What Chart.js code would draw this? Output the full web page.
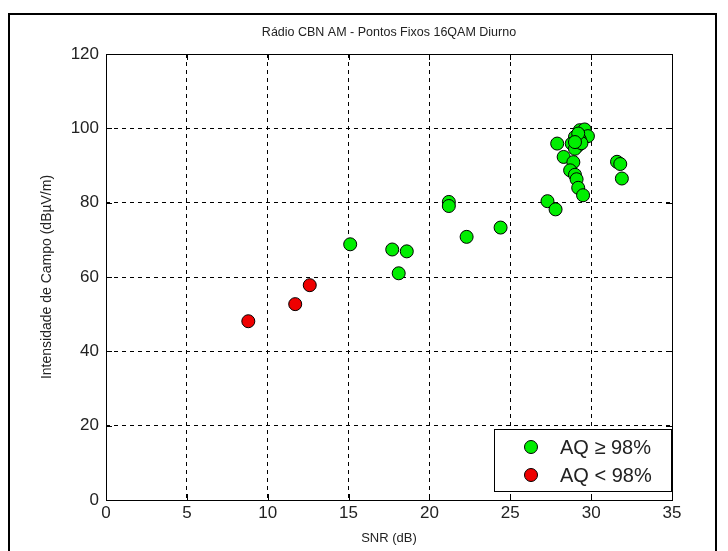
<!DOCTYPE html>
<html>
<head>
<meta charset="utf-8">
<title>Rádio CBN AM - Pontos Fixos 16QAM Diurno</title>
<script src="https://cdn.jsdelivr.net/npm/chart.js@4.4.0/dist/chart.umd.min.js"></script>
<style>
  html, body { margin: 0; padding: 0; background: #fff; }
  #wrap { width: 728px; height: 551px; }
</style>
</head>
<body>
<div id="wrap"><canvas id="chart" width="728" height="551"></canvas></div>
<script>
// Pontos fixos: SNR (dB) x intensidade de campo (dBµV/m)
const snrOk = [15.1, 17.7, 18.6, 18.1, 21.2, 21.2, 22.3, 24.4, 27.3, 27.8,
               27.9, 28.3, 28.9, 28.7, 29.0, 29.1, 29.2, 29.5, 29.3, 29.6,
               29.8, 29.0, 28.8, 29.2, 29.0, 29.1, 29.3, 29.4, 29.2, 29.0,
               31.6, 31.8, 31.9];
const campoOk = [68.8, 67.4, 66.9, 61.0, 80.2, 79.1, 70.8, 73.3, 80.4, 78.2,
                 95.9, 92.3, 90.9, 88.7, 87.5, 86.3, 84.0, 82.0, 99.5, 99.7,
                 97.9, 97.7, 95.9, 95.4, 94.5, 96.5, 97.0, 96.0, 98.6, 96.3,
                 91.0, 90.4, 86.5];
const snrBad = [8.8, 11.7, 12.6];
const campoBad = [48.1, 52.7, 57.8];

const seriesLabels = ["AQ \u2265 98%", "AQ < 98%"];
const xTicks = [0, 5, 10, 15, 20, 25, 30, 35];
const yTicks = [0, 20, 40, 60, 80, 100, 120];
const chartTitle = "Rádio CBN AM - Pontos Fixos 16QAM Diurno";

const FONT = "'Liberation Sans', Arial, Helvetica, sans-serif";
const GREEN = "#00ee00";
const RED = "#ee0000";

const toPoints = (xs, ys) => xs.map((x, i) => ({ x, y: ys[i] }));

// moldura externa, título, caixa dos eixos com ticks internos e legenda
const matlabLook = {
  id: "matlabLook",
  beforeDraw(chart) {
    const c = chart.ctx;
    c.save();
    c.fillStyle = "#fff";
    c.fillRect(0, 0, chart.width, chart.height);
    c.restore();
  },
  afterDatasetsDraw(chart) {
    const c = chart.ctx;
    const a = chart.chartArea;
    const xs = chart.scales.x, ys = chart.scales.y;
    c.save();

    // legenda
    const lw = 177, lh = 62;
    const lx = a.right - 1 - lw, ly = a.bottom - 9 - lh;
    c.fillStyle = "#fff";
    c.fillRect(lx, ly, lw, lh);
    c.strokeStyle = "#000";
    c.lineWidth = 1;
    c.strokeRect(lx + 0.5, ly + 0.5, lw, lh);
    chart.data.datasets.forEach((ds, i) => {
      const cy = ly + 18 + i * 28;
      c.beginPath();
      c.arc(lx + 37, cy, 6.5, 0, Math.PI * 2);
      c.fillStyle = ds.backgroundColor;
      c.fill();
      c.strokeStyle = "#000";
      c.stroke();
      c.fillStyle = "#222";
      c.font = "20px " + FONT;
      c.textAlign = "left";
      c.textBaseline = "middle";
      c.fillText(ds.label, lx + 66, cy + 1);
    });

    // caixa dos eixos
    c.strokeStyle = "#000";
    c.lineWidth = 1;
    c.strokeRect(Math.round(a.left) + 0.5, Math.round(a.top) + 0.5,
                 Math.round(a.right - a.left), Math.round(a.bottom - a.top));
    c.beginPath();
    xTicks.forEach(v => {
      const px = Math.round(xs.getPixelForValue(v)) + 0.5;
      c.moveTo(px, a.bottom); c.lineTo(px, a.bottom - 6);
      c.moveTo(px, a.top); c.lineTo(px, a.top + 6);
    });
    yTicks.forEach(v => {
      const py = Math.round(ys.getPixelForValue(v)) + 0.5;
      c.moveTo(a.left, py); c.lineTo(a.left + 6, py);
      c.moveTo(a.right, py); c.lineTo(a.right - 6, py);
    });
    c.stroke();

    // título
    c.fillStyle = "#222";
    c.font = "12.5px " + FONT;
    c.textAlign = "center";
    c.textBaseline = "middle";
    c.fillText(chartTitle, (a.left + a.right) / 2, 33);

    // moldura externa da figura
    c.lineWidth = 2;
    c.strokeStyle = "#000";
    c.strokeRect(9, 14, 707, 560);
    c.restore();
  }
};

new Chart(document.getElementById("chart"), {
  type: "scatter",
  data: {
    datasets: [
      {
        label: seriesLabels[0],
        data: toPoints(snrOk, campoOk),
        backgroundColor: GREEN,
        borderColor: "#000",
        borderWidth: 1,
        pointRadius: 6.5,
        pointHoverRadius: 6.5
      },
      {
        label: seriesLabels[1],
        data: toPoints(snrBad, campoBad),
        backgroundColor: RED,
        borderColor: "#000",
        borderWidth: 1,
        pointRadius: 6.5,
        pointHoverRadius: 6.5
      }
    ]
  },
  options: {
    responsive: false,
    animation: false,
    events: [],
    layout: { padding: { left: 0, right: 56, top: 54, bottom: 0 } },
    plugins: {
      legend: { display: false },
      title: { display: false },
      tooltip: { enabled: false }
    },
    scales: {
      x: {
        type: "linear",
        min: 0, max: 35,
        afterBuildTicks: (s) => { s.ticks = xTicks.map(v => ({ value: v })); },
        afterFit: (s) => { s.height = 51; },
        grid: { color: "#000", lineWidth: 1, drawTicks: false },
        border: { display: false, dash: [4, 4] },
        ticks: { color: "#222", font: { family: FONT, size: 17 }, padding: 3 },
        title: {
          display: true, text: "SNR (dB)", color: "#222",
          font: { family: FONT, size: 13 }, padding: { top: 0, bottom: 5 }
        }
      },
      y: {
        type: "linear",
        min: 0, max: 120,
        afterBuildTicks: (s) => { s.ticks = yTicks.map(v => ({ value: v })); },
        afterFit: (s) => { s.width = 106; },
        grid: { color: "#000", lineWidth: 1, drawTicks: false },
        border: { display: false, dash: [4, 4] },
        ticks: { color: "#222", font: { family: FONT, size: 17 }, padding: 7 },
        title: {
          display: true, text: "Intensidade de Campo (dBµV/m)", color: "#222",
          font: { family: FONT, size: 14 }, padding: { top: 39, bottom: 0 }
        }
      }
    }
  },
  plugins: [matlabLook]
});
</script>
</body>
</html>
